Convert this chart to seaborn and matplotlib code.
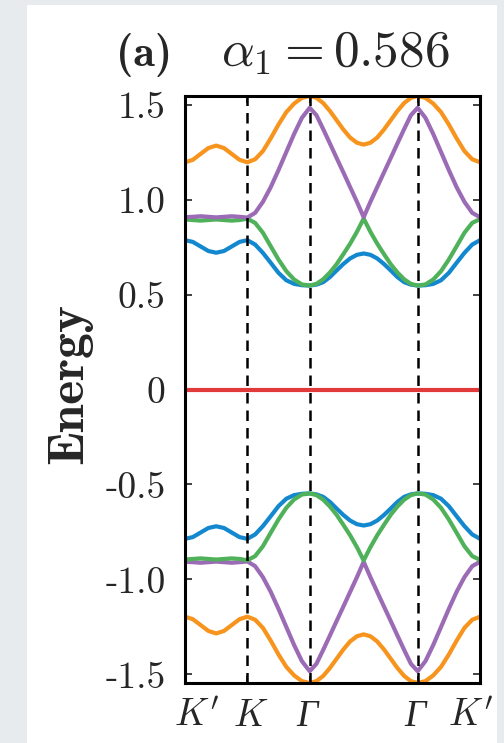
import numpy as np
import pandas as pd
import matplotlib
matplotlib.use("Agg")
import matplotlib.pyplot as plt
import matplotlib.transforms as mtransforms
import seaborn as sns
from matplotlib.patches import Rectangle

# k-path K' -> K -> Gamma -> M -> Gamma -> K'
seg_len = [1.0, 1.0, np.sqrt(3) / 2, np.sqrt(3) / 2, 1.0]
tick_pos = [0.0, 1.0, 2.0, 2.0 + np.sqrt(3), 3.0 + np.sqrt(3)]
tick_labels = ["$K'$", "$K$", "Γ", "Γ", "$K'$"]
ytick_vals = [1.5, 1.0, 0.5, 0.0, -0.5, -1.0, -1.5]
ytick_labels = ["1.5", "1.0", "0.5", "0", "-0.5", "-1.0", "-1.5"]

# sample positions along the path (8 steps per segment)
k = [0.0]
for L in seg_len:
    start = k[-1]
    k += list(start + L * np.arange(1, 9) / 8)
k = np.array(k)

# bands (41 samples each)
orange_up = [1.196, 1.209, 1.240, 1.271, 1.284, 1.271, 1.240, 1.209, 1.196,
             1.212, 1.255, 1.322, 1.395, 1.460, 1.505, 1.535, 1.545,
             1.535, 1.508, 1.466, 1.417, 1.368, 1.326, 1.299, 1.289,
             1.299, 1.326, 1.368, 1.417, 1.466, 1.508, 1.535, 1.545,
             1.535, 1.505, 1.460, 1.395, 1.322, 1.255, 1.212, 1.196]
purple_up = [0.907, 0.909, 0.912, 0.909, 0.906, 0.909, 0.912, 0.909, 0.905,
             0.930, 0.988, 1.065, 1.155, 1.250, 1.345, 1.430, 1.483,
             1.444, 1.371, 1.295, 1.218, 1.142, 1.065, 0.988, 0.907,
             0.988, 1.065, 1.142, 1.218, 1.295, 1.371, 1.444, 1.483,
             1.430, 1.345, 1.250, 1.155, 1.065, 0.988, 0.930, 0.907]
green_up = [0.895, 0.892, 0.889, 0.892, 0.895, 0.892, 0.889, 0.892, 0.899,
            0.877, 0.825, 0.754, 0.684, 0.623, 0.579, 0.553, 0.547,
            0.556, 0.580, 0.616, 0.660, 0.713, 0.768, 0.830, 0.900,
            0.830, 0.768, 0.713, 0.660, 0.616, 0.580, 0.556, 0.547,
            0.553, 0.579, 0.623, 0.684, 0.754, 0.825, 0.877, 0.897]
blue_up = [0.786, 0.777, 0.753, 0.729, 0.720, 0.729, 0.753, 0.777, 0.786,
           0.763, 0.719, 0.667, 0.614, 0.575, 0.556, 0.549, 0.547,
           0.552, 0.565, 0.592, 0.627, 0.661, 0.690, 0.709, 0.716,
           0.709, 0.690, 0.661, 0.627, 0.592, 0.565, 0.552, 0.547,
           0.549, 0.556, 0.575, 0.614, 0.667, 0.719, 0.763, 0.786]
flat = [0.0] * 41
blue_dn = [-0.786, -0.777, -0.753, -0.729, -0.720, -0.729, -0.753, -0.777, -0.786,
           -0.763, -0.719, -0.667, -0.614, -0.575, -0.556, -0.549, -0.547,
           -0.552, -0.565, -0.592, -0.627, -0.661, -0.690, -0.709, -0.716,
           -0.709, -0.690, -0.661, -0.627, -0.592, -0.565, -0.552, -0.547,
           -0.549, -0.556, -0.575, -0.614, -0.667, -0.719, -0.763, -0.786]
green_dn = [-0.895, -0.892, -0.889, -0.892, -0.895, -0.892, -0.889, -0.892, -0.899,
            -0.877, -0.825, -0.754, -0.684, -0.623, -0.579, -0.553, -0.547,
            -0.556, -0.580, -0.616, -0.660, -0.713, -0.768, -0.830, -0.900,
            -0.830, -0.768, -0.713, -0.660, -0.616, -0.580, -0.556, -0.547,
            -0.553, -0.579, -0.623, -0.684, -0.754, -0.825, -0.877, -0.897]
purple_dn = [-0.907, -0.909, -0.912, -0.909, -0.906, -0.909, -0.912, -0.909, -0.905,
             -0.930, -0.988, -1.065, -1.155, -1.250, -1.345, -1.430, -1.483,
             -1.444, -1.371, -1.295, -1.218, -1.142, -1.065, -0.988, -0.907,
             -0.988, -1.065, -1.142, -1.218, -1.295, -1.371, -1.444, -1.483,
             -1.430, -1.345, -1.250, -1.155, -1.065, -0.988, -0.930, -0.907]
orange_dn = [-1.196, -1.209, -1.240, -1.271, -1.284, -1.271, -1.240, -1.209, -1.196,
             -1.212, -1.255, -1.322, -1.395, -1.460, -1.505, -1.535, -1.545,
             -1.535, -1.508, -1.466, -1.417, -1.368, -1.326, -1.299, -1.289,
             -1.299, -1.326, -1.368, -1.417, -1.466, -1.508, -1.535, -1.545,
             -1.535, -1.505, -1.460, -1.395, -1.322, -1.255, -1.212, -1.196]

c_orange = "#f7941d"
c_purple = "#9b6bb5"
c_green = "#4fb25a"
c_blue = "#1388cf"
c_red = "#e03a3a"

bands = [
    (blue_up, c_blue), (green_up, c_green), (purple_up, c_purple), (orange_up, c_orange),
    (orange_dn, c_orange), (purple_dn, c_purple), (blue_dn, c_blue), (green_dn, c_green),
    (flat, c_red),
]

sns.set_style("ticks")
plt.rcParams["font.family"] = ["cmr10", "DejaVu Serif"]
plt.rcParams["mathtext.fontset"] = "cm"
plt.rcParams["axes.unicode_minus"] = False
plt.rcParams["axes.formatter.use_mathtext"] = True

fig = plt.figure(figsize=(5.04, 7.43), dpi=100)
fig.patch.set_facecolor("#e8ebee")
fig.patches.append(Rectangle((27 / 504, 0), 470 / 504, 738 / 743, transform=fig.transFigure,
                             facecolor="white", edgecolor="none", zorder=-10))
ax = fig.add_axes([185 / 504, 1 - 683 / 743, 295 / 504, 587 / 743])
ax.set_zorder(2)
ax.set_facecolor("white")

for vals, col in bands:
    sns.lineplot(x=k, y=vals, color=col, linewidth=3.0, ax=ax, sort=False)

for xv in tick_pos[1:4]:
    ax.axvline(xv, color="black", linewidth=1.8, linestyle=(0, (4.2, 2.8)), zorder=5)

ax.set_xlim(tick_pos[0], tick_pos[-1])
ax.set_ylim(-1.545, 1.545)
ax.set_xticks(tick_pos)
ax.set_xticklabels(tick_labels)
ax.set_yticks(ytick_vals)
ax.set_yticklabels(ytick_labels)
for lbl in ax.get_xticklabels():
    if "Γ" in lbl.get_text():
        lbl.set_fontfamily("Liberation Serif")
        lbl.set_fontstyle("italic")

ax.tick_params(direction="in", length=5, width=1.3, color="#333333",
               top=True, right=True, labelsize=27)
ax.tick_params(axis="y", pad=14)
ax.tick_params(axis="x", pad=12)

# nudge the end labels inwards like the original
xl = ax.get_xticklabels()
shifts = [12, 3, -3, -3, -9]
for lbl, dx in zip(xl, shifts):
    lbl.set_transform(lbl.get_transform() + mtransforms.ScaledTranslation(dx / 100, 0, fig.dpi_scale_trans))

for sp in ax.spines.values():
    sp.set_linewidth(2.2)
    sp.set_color("black")
    sp.set_zorder(6)

ax.set_xlabel("")
ax.set_ylabel("Energy", fontsize=37, fontfamily="cmb10")
ax.yaxis.set_label_coords(-0.315, 0.51)

# title: bold panel tag plus the parameter value
fig.text(116 / 504, 1 - 66 / 743, "(a)", fontsize=32, fontfamily="cmb10",
         ha="left", va="baseline")
fig.text(221 / 504, 1 - 66 / 743, r"$\alpha_1 = 0.586$", fontsize=37,
         ha="left", va="baseline")

fig.savefig("out.png", dpi=100, facecolor=fig.get_facecolor())
